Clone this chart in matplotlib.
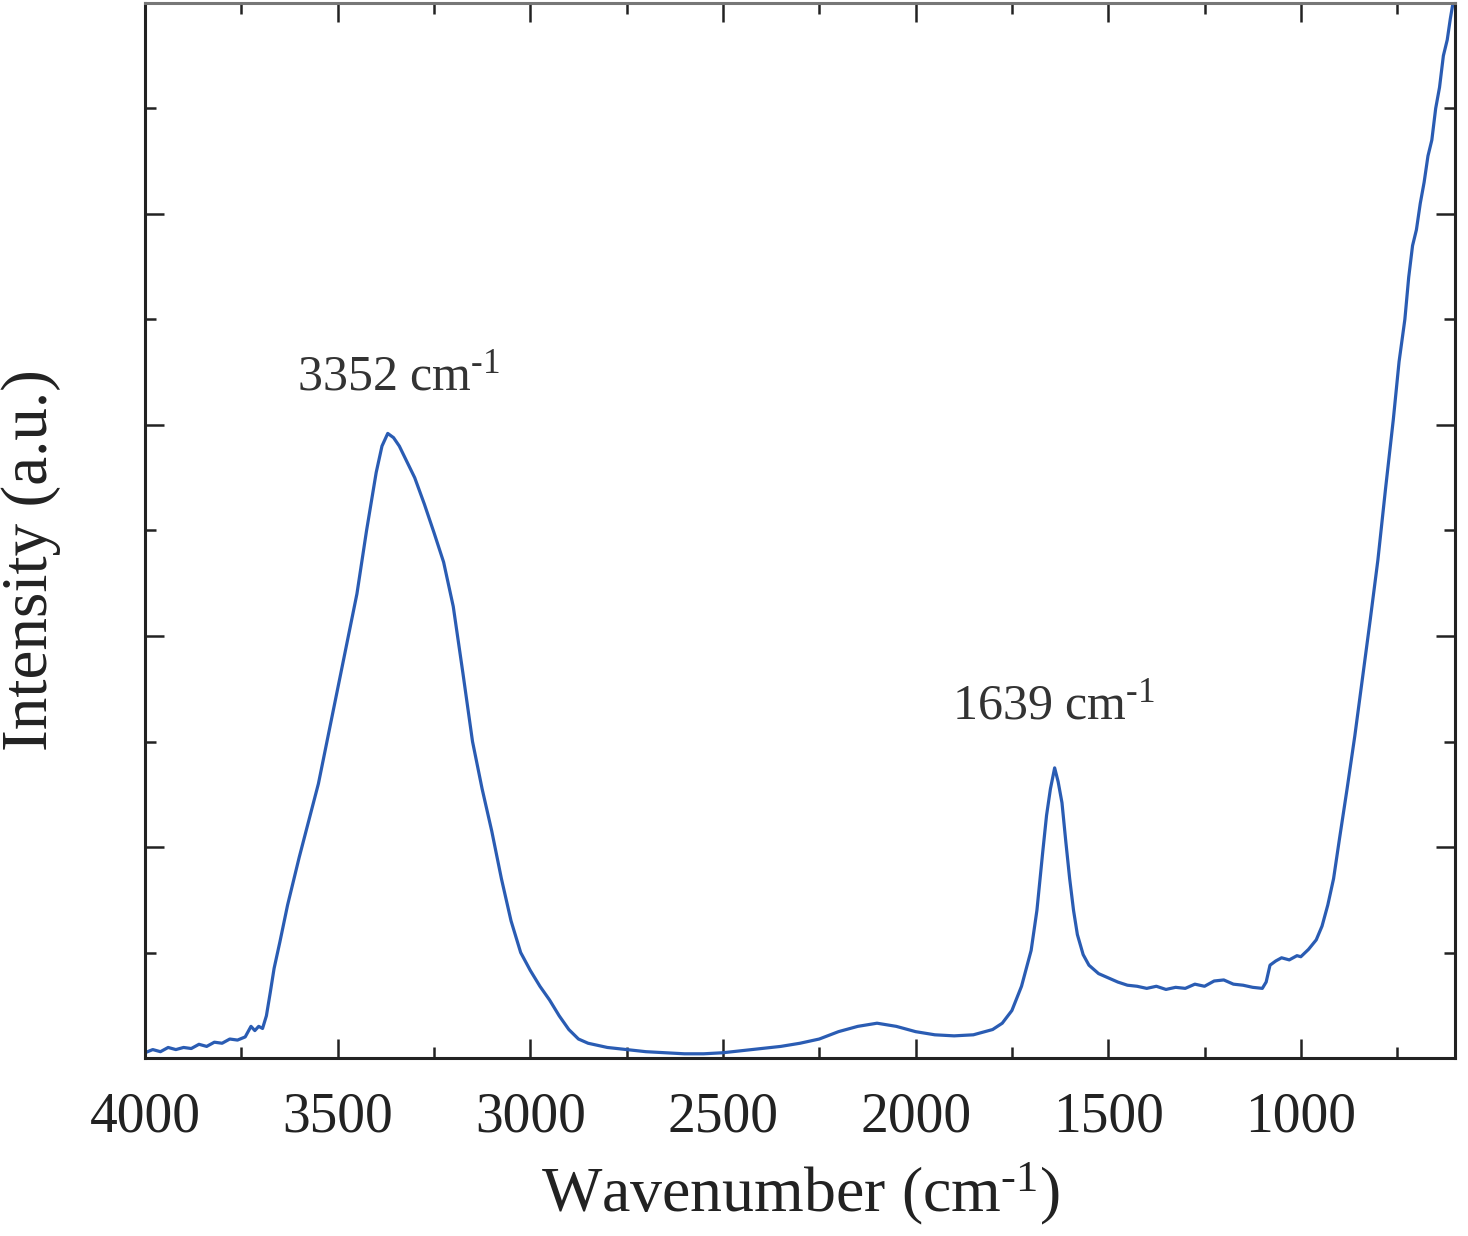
import matplotlib
matplotlib.use("Agg")
import matplotlib.pyplot as plt
from matplotlib.ticker import MultipleLocator

plt.rcParams['font.family'] = ['Liberation Serif', 'DejaVu Serif']
plt.rcParams['mathtext.fontset'] = 'custom'
plt.rcParams['mathtext.rm'] = 'Liberation Serif'
plt.rcParams['mathtext.default'] = 'regular'

wavenumber = [4000, 3980, 3960, 3940, 3920, 3900, 3880, 3860, 3840, 3820, 3800, 3780,
              3760, 3740, 3725, 3715, 3705, 3695, 3685, 3675, 3665, 3650, 3630, 3600,
              3575, 3550, 3525, 3500, 3475, 3450, 3425, 3400, 3385, 3370, 3355, 3340,
              3320, 3300, 3275, 3250, 3225, 3200, 3175, 3150, 3125, 3100, 3075, 3050,
              3025, 3000, 2975, 2950, 2925, 2900, 2875, 2850, 2800, 2750, 2700, 2650,
              2600, 2550, 2500, 2450, 2400, 2350, 2300, 2250, 2200, 2150, 2100, 2050,
              2000, 1950, 1900, 1850, 1800, 1775, 1750, 1725, 1700, 1685, 1670, 1660,
              1650, 1639, 1630, 1620, 1610, 1600, 1590, 1580, 1565, 1550, 1525, 1500,
              1475, 1450, 1425, 1400, 1375, 1350, 1325, 1300, 1275, 1250, 1225, 1200,
              1175, 1150, 1125, 1100, 1090, 1080, 1065, 1050, 1030, 1010, 1000, 980,
              960, 945, 930, 915, 900, 880, 860, 840, 820, 800, 780, 760, 745, 730,
              720, 710, 700, 690, 680, 670, 660, 650, 640, 630, 620, 612, 605]
intensity = [0.05, 0.08, 0.06, 0.1, 0.08, 0.1, 0.09, 0.13, 0.11, 0.15, 0.14, 0.18,
             0.17, 0.2, 0.3, 0.26, 0.3, 0.28, 0.4, 0.62, 0.85, 1.1, 1.45, 1.9,
             2.25, 2.6, 3.05, 3.5, 3.95, 4.4, 5.0, 5.55, 5.8, 5.92, 5.88, 5.8,
             5.65, 5.5, 5.25, 4.98, 4.7, 4.28, 3.65, 3.0, 2.55, 2.15, 1.7, 1.3,
             1.0, 0.83, 0.68, 0.55, 0.4, 0.27, 0.18, 0.14, 0.1, 0.08, 0.06, 0.05,
             0.04, 0.04, 0.05, 0.07, 0.09, 0.11, 0.14, 0.18, 0.25, 0.3, 0.33, 0.3,
             0.25, 0.22, 0.21, 0.22, 0.27, 0.33, 0.45, 0.68, 1.02, 1.4, 1.95, 2.3,
             2.55, 2.75, 2.62, 2.42, 2.05, 1.7, 1.4, 1.17, 0.98, 0.88, 0.8, 0.76,
             0.72, 0.69, 0.68, 0.66, 0.68, 0.65, 0.67, 0.66, 0.7, 0.68, 0.73, 0.74,
             0.7, 0.69, 0.67, 0.66, 0.72, 0.88, 0.92, 0.95, 0.93, 0.97, 0.96, 1.03,
             1.12, 1.25, 1.45, 1.7, 2.07, 2.55, 3.05, 3.6, 4.15, 4.72, 5.4, 6.05, 6.6, 7.0,
             7.4, 7.7, 7.85, 8.1, 8.3, 8.55, 8.7, 9.0, 9.2, 9.5, 9.65, 9.85, 10.0]

annot_labels = ['3352 cm$^{\\text{-}1}$', '1639 cm$^{\\text{-}1}$']
annot_x = [3343, 1642]
annot_y = [6.45, 3.33]

fig = plt.figure(figsize=(14.68, 12.36), dpi=100)
ax = fig.add_axes([0.0988, 0.144, 0.8923, 0.8536])
ax.plot(wavenumber, intensity, color='#2a5cb3', linewidth=2.3)

ax.set_xlim(4000, 600)
ax.set_ylim(0, 10)
ax.xaxis.set_major_locator(MultipleLocator(500))
ax.xaxis.set_minor_locator(MultipleLocator(250))
ax.yaxis.set_major_locator(MultipleLocator(2))
ax.yaxis.set_minor_locator(MultipleLocator(1))
ax.tick_params(which='both', direction='in', top=True, right=True, width=1.8, color='#222222')
ax.tick_params(which='major', length=14)
ax.tick_params(which='minor', length=8)
ax.tick_params(axis='x', labelsize=40, pad=24, colors='#222222')
ax.tick_params(axis='y', labelleft=False)
for s in ax.spines.values():
    s.set_linewidth(2.2)
    s.set_color('#222222')
ax.spines['top'].set_color('#777777')

ax.set_xlabel('Wavenumber (cm$^{\\text{-}1}$)', fontsize=46, color='#222222', labelpad=12)
ax.set_ylabel('Intensity (a.u.)', fontsize=47, color='#222222')
ax.yaxis.set_label_coords(-0.064, 0.472)

for t, xv, yv in zip(annot_labels, annot_x, annot_y):
    ax.text(xv, yv, t, fontsize=36, color='#333333', ha='center', va='center')

fig.savefig('out.png', dpi=100)
